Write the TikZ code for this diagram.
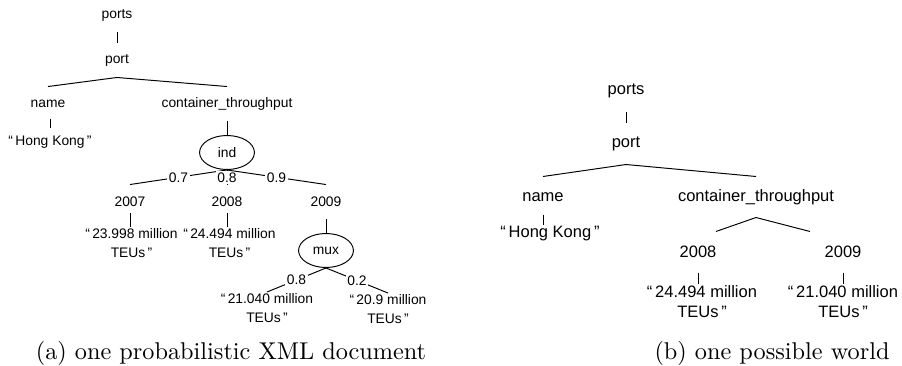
\documentclass[tikz,border=0pt]{standalone}
\usepackage{fontspec}
\newfontfamily\xmlfont{Liberation Sans}
\usetikzlibrary{shapes.geometric,calc}
\tikzset{
  sm/.style={font=\xmlfont\fontsize{5.7}{7.8}\selectfont},
  lg/.style={font=\xmlfont\fontsize{6.8}{8.2}\selectfont},
  elem/.style={inner sep=0pt, minimum height=14pt},
  elemL/.style={inner sep=0pt, minimum height=16.5pt},
  val/.style={inner sep=0.6pt, align=center},
  dist/.style={draw, ellipse, inner sep=0pt, minimum width=22.6pt, minimum height=14pt},
  prob/.style={midway, fill=white, inner sep=0.6pt},
}

\begin{document}
\begin{tikzpicture}[x=0.412pt,y=-0.412pt,line width=0.4pt]
\useasboundingbox (0,0) rectangle (902,365);
% (a) probabilistic document
\begin{scope}[sm]
  \node[elem] (ports) at (117,15) {ports};
  \node[elem] (port) at (117,60) {port};
  \node[elem] (name) at (48,104) {name};
  \node[elem] (ct) at (227,104) {container\_throughput};
  \node[val, minimum height=11.5pt] (hk) at (50,142) {“\,Hong Kong\,”};
  \node[dist] (ind) at (227,152.5) {ind};
  \node[elem] (y2007) at (130,202) {2007};
  \node[elem] (y2008) at (227,202) {2008};
  \node[elem] (y2009) at (326,202) {2009};
  \node[val, anchor=north] (v2007) at (131.5,227) {“\,23.998 million\\TEUs\,”};
  \node[val, anchor=north] (v2008) at (229.5,227) {“\,24.494 million\\TEUs\,”};
  \node[dist] (mux) at (326,250.5) {mux};
  \node[val, anchor=north] (v21) at (267,292) {“\,21.040 million\\TEUs\,”};
  \node[val, anchor=north] (v20) at (388,293) {“\,20.9 million\\TEUs\,”};
  \draw (ports) -- (port);
  \draw (name.north) -- (port.south) -- (ct.north);
  \draw[shorten <=-1.2pt] ([xshift=1pt]name.south) -- ([xshift=1pt]name.south |- hk.north);
  \draw (ct) -- (ind);
  \draw (ind.south) -- node[prob]{0.7} (y2007.north);
  \draw (ind.south) -- node[prob]{0.8} (y2008.north);
  \draw (ind.south) -- node[prob]{0.9} (y2009.north);
  \draw[shorten <=-2.5pt] (y2007.south) -- (y2007.south |- v2007.north);
  \draw[shorten <=-2.5pt] (y2008.south) -- (y2008.south |- v2008.north);
  \draw (y2009) -- (mux);
  \draw (mux.south) -- node[prob]{0.8} (v21.north);
  \draw (mux.south) -- node[prob]{0.2} (v20.north);
\end{scope}
\node (capa) at (231,353) {(a) one probabilistic XML document};
% (b) possible world
\begin{scope}[lg]
  \node[elemL] (wports) at (626,91) {ports};
  \node[elemL] (wport) at (626,144) {port};
  \node[elemL] (wname) at (543,197) {name};
  \node[elemL] (wct) at (756,197) {container\_throughput};
  \node[val] (whk) at (550,234) {“\,Hong Kong\,”};
  \node[elemL] (wy2008) at (698,252) {2008};
  \node[elemL] (wy2009) at (843,252) {2009};
  \node[val, anchor=north] (wv2008) at (702,284) {“\,24.494 million\\TEUs\,”};
  \node[val, anchor=north] (wv2009) at (843,284) {“\,21.040 million\\TEUs\,”};
  \draw (wports) -- (wport);
  \draw (wname.north) -- (wport.south) -- (wct.north);
  \draw[shorten <=-1.2pt] (wname.south) -- (wname.south |- whk.north);
  \draw ([xshift=7.4pt]wy2008.north) -- (wct.south) -- ([xshift=-13.6pt]wy2009.north);
  \draw (wy2008.south) -- (wy2008.south |- wv2008.north);
  \draw (wy2009.south) -- (wy2009.south |- wv2009.north);
\end{scope}
\node (capb) at (772,353) {(b) one possible world};
\end{tikzpicture}
\end{document}
